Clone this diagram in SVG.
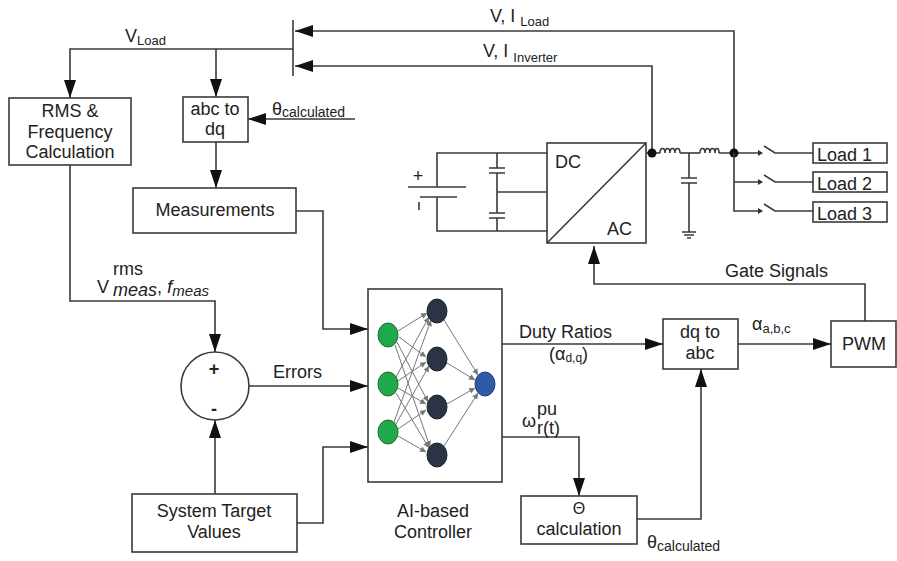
<svg xmlns="http://www.w3.org/2000/svg" width="897" height="561" viewBox="0 0 897 561">
<defs>
<style>
.b{fill:#fff;stroke:#3a3a3a;stroke-width:1.6}
.l{fill:none;stroke:#3a3a3a;stroke-width:1.6}
.t{font-family:"Liberation Sans",Arial,sans-serif;font-size:18px;fill:#222}
.s{font-size:13px}
.nn{stroke:#777;stroke-width:1;marker-end:url(#sa)}
</style>
<marker id="a" markerUnits="userSpaceOnUse" viewBox="0 0 18 12" refX="18" refY="6" markerWidth="18" markerHeight="12" orient="auto"><path d="M0,0L18,6L0,12z" fill="#111"/></marker>
<marker id="sa" markerUnits="userSpaceOnUse" viewBox="0 0 6 6" refX="6" refY="3" markerWidth="6" markerHeight="6" orient="auto"><path d="M0,0L6,3L0,6z" fill="#777"/></marker>
</defs>
<rect width="897" height="561" fill="#fff"/>

<g id="connectors">
<path class="l" d="M293,20V76"/>
<path class="l" d="M734,153V31H295" marker-end="url(#a)"/>
<path class="l" d="M652,153V66H295" marker-end="url(#a)"/>
<path class="l" d="M293,49H70V98" marker-end="url(#a)"/>
<path class="l" d="M216,49V97" marker-end="url(#a)"/>
<path class="l" d="M355,119H248" marker-end="url(#a)"/>
<path class="l" d="M216,142V188" marker-end="url(#a)"/>
<path class="l" d="M70,165V301H215V352" marker-end="url(#a)"/>
<path class="l" d="M296,211H323V329H368" marker-end="url(#a)"/>
<path class="l" d="M249,386H368" marker-end="url(#a)"/>
<path class="l" d="M215,494V420" marker-end="url(#a)"/>
<path class="l" d="M297,523H323V447H368" marker-end="url(#a)"/>
<path class="l" d="M502,344H663" marker-end="url(#a)"/>
<path class="l" d="M738,344H831" marker-end="url(#a)"/>
<path class="l" d="M865,321V284H594V246" marker-end="url(#a)"/>
<path class="l" d="M502,437H579V496" marker-end="url(#a)"/>
<path class="l" d="M637,519H701V369" marker-end="url(#a)"/>
</g>

<g id="circuit">
<path class="l" d="M437,187V153H547M437,197V231H547"/>
<path class="l" d="M408,187H466M420,197H457" stroke-width="2"/>
<text class="t" x="418" y="182" font-size="13" text-anchor="middle">+</text>
<path class="l" d="M419,202V210" stroke-width="1.2"/>
<path class="l" d="M497,153V168M497,173V213M497,218V231M497,192H547"/>
<path class="l" d="M489,168H505M489,173H505M489,213H505M489,218H505" stroke-width="1.8"/>
<path class="l" d="M646,153H660"/>
<path class="l" d="M660,153c0,-6 5,-6 5,0c0,-6 5,-6 5,0c0,-6 5,-6 5,0c0,-6 5,-6 5,0"/>
<path class="l" d="M680,153H700"/>
<path class="l" d="M700,153c0,-6 5,-6 5,0c0,-6 5,-6 5,0c0,-6 5,-6 5,0c0,-6 4,-6 4,0"/>
<path class="l" d="M719,153H762"/>
<path class="l" d="M689,153V178M689,183V232"/>
<path class="l" d="M681,178H697M681,183H697" stroke-width="1.8"/>
<path class="l" d="M682,232H696M684,235H694M687,238H691"/>
<circle cx="652" cy="153" r="4.5" fill="#111"/>
<circle cx="734" cy="153" r="4.5" fill="#111"/>
<path class="l" d="M734,153V211H762M734,182H762"/>
<g fill="#333"><path d="M758,150L763,153L758,156z"/><path d="M758,179L763,182L758,185z"/><path d="M758,208L763,211L758,214z"/></g>
<path class="l" d="M764,146L775,153H813M764,175L775,182H813M764,204L775,211H813"/>
</g>

<g id="dcac">
<rect class="b" x="547" y="143" width="99" height="100"/>
<path class="l" d="M547,243L646,143"/>
<text class="t" x="555" y="168" font-size="20">DC</text>
<text class="t" x="607" y="235" font-size="20">AC</text>
</g>

<g id="load1"><rect class="b" x="813" y="143" width="74" height="20"/><text class="t" x="817" y="161" font-size="20">Load 1</text></g>
<g id="load2"><rect class="b" x="813" y="172" width="74" height="20"/><text class="t" x="817" y="190" font-size="20">Load 2</text></g>
<g id="load3"><rect class="b" x="813" y="202" width="74" height="20"/><text class="t" x="817" y="220" font-size="20">Load 3</text></g>

<g id="rms">
<rect class="b" x="9" y="98" width="122" height="67"/>
<text class="t" text-anchor="middle"><tspan x="70" y="117">RMS &amp;</tspan><tspan x="70" y="138">Frequency</tspan><tspan x="70" y="158">Calculation</tspan></text>
</g>

<g id="abc2dq">
<rect class="b" x="183" y="97" width="65" height="45"/>
<text class="t" text-anchor="middle"><tspan x="215" y="115">abc to</tspan><tspan x="215" y="135">dq</tspan></text>
</g>

<g id="measurements">
<rect class="b" x="133" y="188" width="163" height="45"/>
<text class="t" x="215" y="216" text-anchor="middle">Measurements</text>
</g>

<g id="sum">
<circle class="b" cx="215" cy="386" r="34"/>
<text class="t" x="214" y="375" text-anchor="middle" font-size="30" font-weight="bold">+</text>
<text class="t" x="214" y="415" text-anchor="middle" font-size="24" font-weight="bold">-</text>
</g>

<g id="target">
<rect class="b" x="132" y="494" width="165" height="58"/>
<text class="t" text-anchor="middle"><tspan x="214" y="517">System Target</tspan><tspan x="214" y="538">Values</tspan></text>
</g>

<g id="ai">
<rect class="b" x="368" y="289" width="134" height="193"/>
<g>
<line class="nn" x1="398" y1="331" x2="427" y2="313"/>
<line class="nn" x1="399" y1="337" x2="426" y2="357"/>
<line class="nn" x1="397" y1="342" x2="428" y2="402"/>
<line class="nn" x1="395" y1="345" x2="430" y2="447"/>
<line class="nn" x1="396" y1="377" x2="429" y2="317"/>
<line class="nn" x1="398" y1="381" x2="426" y2="362"/>
<line class="nn" x1="398" y1="388" x2="426" y2="404"/>
<line class="nn" x1="396" y1="393" x2="429" y2="448"/>
<line class="nn" x1="394" y1="422" x2="431" y2="320"/>
<line class="nn" x1="396" y1="424" x2="429" y2="366"/>
<line class="nn" x1="398" y1="429" x2="426" y2="410"/>
<line class="nn" x1="398" y1="436" x2="426" y2="452"/>
<line class="nn" x1="444" y1="320" x2="478" y2="375"/>
<line class="nn" x1="447" y1="363" x2="475" y2="380"/>
<line class="nn" x1="447" y1="404" x2="475" y2="388"/>
<line class="nn" x1="444" y1="446" x2="478" y2="393"/>
</g>
<g fill="#1eaa48" stroke="#176b31" stroke-width="1">
<ellipse cx="388" cy="335" rx="10" ry="12"/><ellipse cx="388" cy="384" rx="10" ry="12"/><ellipse cx="388" cy="432" rx="10" ry="12"/>
</g>
<g fill="#2b3444" stroke="#1c2230" stroke-width="1">
<ellipse cx="437" cy="311" rx="10" ry="12"/><ellipse cx="437" cy="359" rx="10" ry="12"/><ellipse cx="437" cy="407" rx="10" ry="12"/><ellipse cx="437" cy="455" rx="10" ry="12"/>
</g>
<ellipse cx="485" cy="384" rx="10" ry="12" fill="#2e5aa8" stroke="#1e3f7a" stroke-width="1"/>
<text class="t" text-anchor="middle"><tspan x="433" y="517">AI-based</tspan><tspan x="433" y="538">Controller</tspan></text>
</g>

<g id="dq2abc">
<rect class="b" x="663" y="319" width="75" height="50"/>
<text class="t" text-anchor="middle"><tspan x="700" y="338">dq to</tspan><tspan x="700" y="359">abc</tspan></text>
</g>

<g id="pwm">
<rect class="b" x="831" y="321" width="65" height="46"/>
<text class="t" x="864" y="350" text-anchor="middle">PWM</text>
</g>

<g id="thetacalc">
<rect class="b" x="521" y="496" width="116" height="48"/>
<text class="t" text-anchor="middle"><tspan x="579" y="514" font-size="16">Θ</tspan><tspan x="579" y="535">calculation</tspan></text>
</g>

<g id="labels">
<text class="t" x="125" y="42" font-size="19">V<tspan class="s" font-size="14" dy="3">Load</tspan></text>
<text class="t" x="272" y="115" font-size="19">θ<tspan font-size="14" dy="2">calculated</tspan></text>
<text class="t" x="490" y="22" font-size="19">V, I <tspan font-size="13" dy="4">Load</tspan></text>
<text class="t" x="483" y="57" font-size="19">V, I <tspan font-size="13" dy="5">Inverter</tspan></text>
<text class="t" x="97" y="293" font-size="20">V</text>
<text class="t" x="113" y="275" font-size="14">rms</text>
<text class="t" x="113" y="296" font-size="15" font-style="italic">meas<tspan font-style="normal" font-size="18" dy="-3">, </tspan><tspan font-size="19" dy="0">f</tspan><tspan font-size="15" dy="3">meas</tspan></text>
<text class="t" x="273" y="378">Errors</text>
<text class="t" x="519" y="338">Duty Ratios</text>
<text class="t" x="549" y="360" font-size="15">(α<tspan font-size="12" dy="2">d,q</tspan><tspan dy="-2">)</tspan></text>
<text class="t" x="752" y="330" font-size="19">α<tspan font-size="13" dy="3">a,b,c</tspan></text>
<text class="t" x="725" y="277">Gate Signals</text>
<text class="t" x="522" y="427" font-size="19">ω</text>
<text class="t" x="537" y="415" font-size="12">pu</text>
<text class="t" x="537" y="434" font-size="12">r(t)</text>
<text class="t" x="647" y="548" font-size="19">θ<tspan font-size="14" dy="3">calculated</tspan></text>
</g>
</svg>
